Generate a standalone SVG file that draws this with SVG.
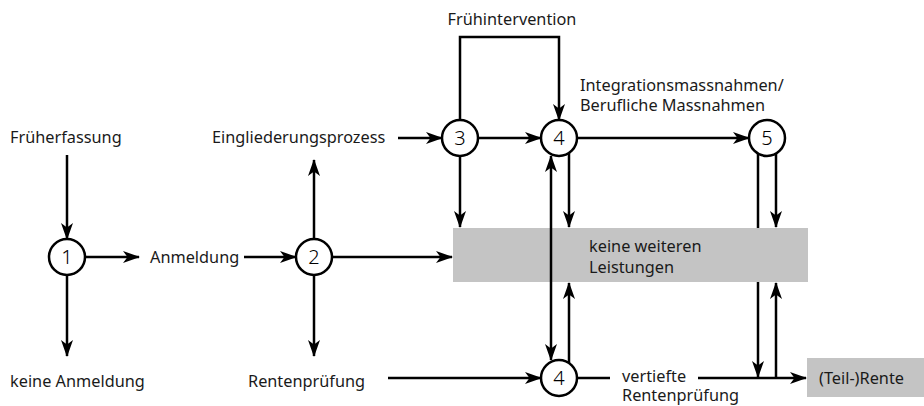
<svg xmlns="http://www.w3.org/2000/svg" width="924" height="406" viewBox="0 0 924 406">
<defs>
<marker id="ah" markerUnits="userSpaceOnUse" markerWidth="17" markerHeight="13" refX="16" refY="6.5" orient="auto-start-reverse" viewBox="0 0 17 13">
<path d="M0,0.5 L17,6.5 L0,12.5 L4.5,6.5 z" fill="#000"/>
</marker>
</defs>
<style>
text{font-family:"Noto Sans","Open Sans",sans-serif;font-size:16.3px;fill:#1a1a1a}
.num{font-size:20px;text-anchor:middle;font-weight:300;fill:#000}
.c{fill:#fff;stroke:#000;stroke-width:2.5}
.l{fill:none;stroke:#000;stroke-width:2.5}
.a{marker-end:url(#ah)}
.b{fill:#c4c4c4}
</style>
<rect width="924" height="406" fill="#fff"/>
<g id="connectors">
<line class="l a" x1="67" y1="155" x2="67" y2="239"/>
<line class="l a" x1="67" y1="275" x2="67" y2="356"/>
<line class="l a" x1="85" y1="257" x2="139" y2="257"/>
<line class="l a" x1="244" y1="257" x2="296" y2="257"/>
<line class="l a" x1="314" y1="239" x2="314" y2="160"/>
<line class="l a" x1="314" y1="275" x2="314" y2="356"/>
<line class="l a" x1="332" y1="257" x2="452" y2="257"/>
<line class="l a" x1="398" y1="138" x2="442" y2="138"/>
<line class="l a" x1="478" y1="138" x2="541" y2="138"/>
<path class="l a" d="M460,120 V37 H559 V120"/>
<line class="l a" x1="577" y1="138" x2="749" y2="138"/>
<line class="l a" x1="460" y1="156" x2="460" y2="227"/>
<line class="l a" x1="569" y1="153" x2="569" y2="227"/>
<line class="l a" x1="569" y1="363" x2="569" y2="283"/>
<line class="l a" x1="758" y1="154" x2="758" y2="377"/>
<line class="l a" x1="776" y1="154" x2="776" y2="227"/>
<line class="l a" x1="776" y1="378" x2="776" y2="283"/>
<line class="l a" x1="388" y1="378" x2="541" y2="378"/>
<line class="l" x1="577" y1="378" x2="610" y2="378"/>
<line class="l a" x1="698" y1="378" x2="806" y2="378"/>
</g>
<g id="n-box">
<rect class="b" x="453" y="228" width="355" height="54"/>
<text x="589" y="252">keine weiteren</text>
<text x="589" y="273">Leistungen</text>
</g>
<g id="connectors-over">
<line class="l a" x1="551" y1="156" x2="551" y2="360" style="marker-start:url(#ah)"/>
</g>
<g id="n-rente">
<rect class="b" x="807" y="358" width="117" height="39"/>
<text x="819" y="384">(Teil-)Rente</text>
</g>
<g id="n1"><circle class="c" cx="67" cy="257" r="18"/><text class="num" x="67" y="264">1</text></g>
<g id="n2"><circle class="c" cx="314" cy="257" r="18"/><text class="num" x="314" y="264">2</text></g>
<g id="n3"><circle class="c" cx="460" cy="138" r="18"/><text class="num" x="460" y="145">3</text></g>
<g id="n4a"><circle class="c" cx="559" cy="138" r="18"/><text class="num" x="559" y="145">4</text></g>
<g id="n5"><circle class="c" cx="767" cy="138" r="18"/><text class="num" x="767" y="145">5</text></g>
<g id="n4b"><circle class="c" cx="559" cy="378" r="18"/><text class="num" x="559" y="385">4</text></g>
<g id="labels">
<text x="10" y="143">Früherfassung</text>
<text x="10" y="387">keine Anmeldung</text>
<text x="150" y="263">Anmeldung</text>
<text x="212" y="143">Eingliederungsprozess</text>
<text x="248" y="387">Rentenprüfung</text>
<text x="512" y="25" text-anchor="middle">Frühintervention</text>
<text x="580" y="91">Integrationsmassnahmen/</text>
<text x="580" y="111">Berufliche Massnahmen</text>
<text x="622" y="382">vertiefte</text>
<text x="622" y="401">Rentenprüfung</text>
</g>
</svg>
